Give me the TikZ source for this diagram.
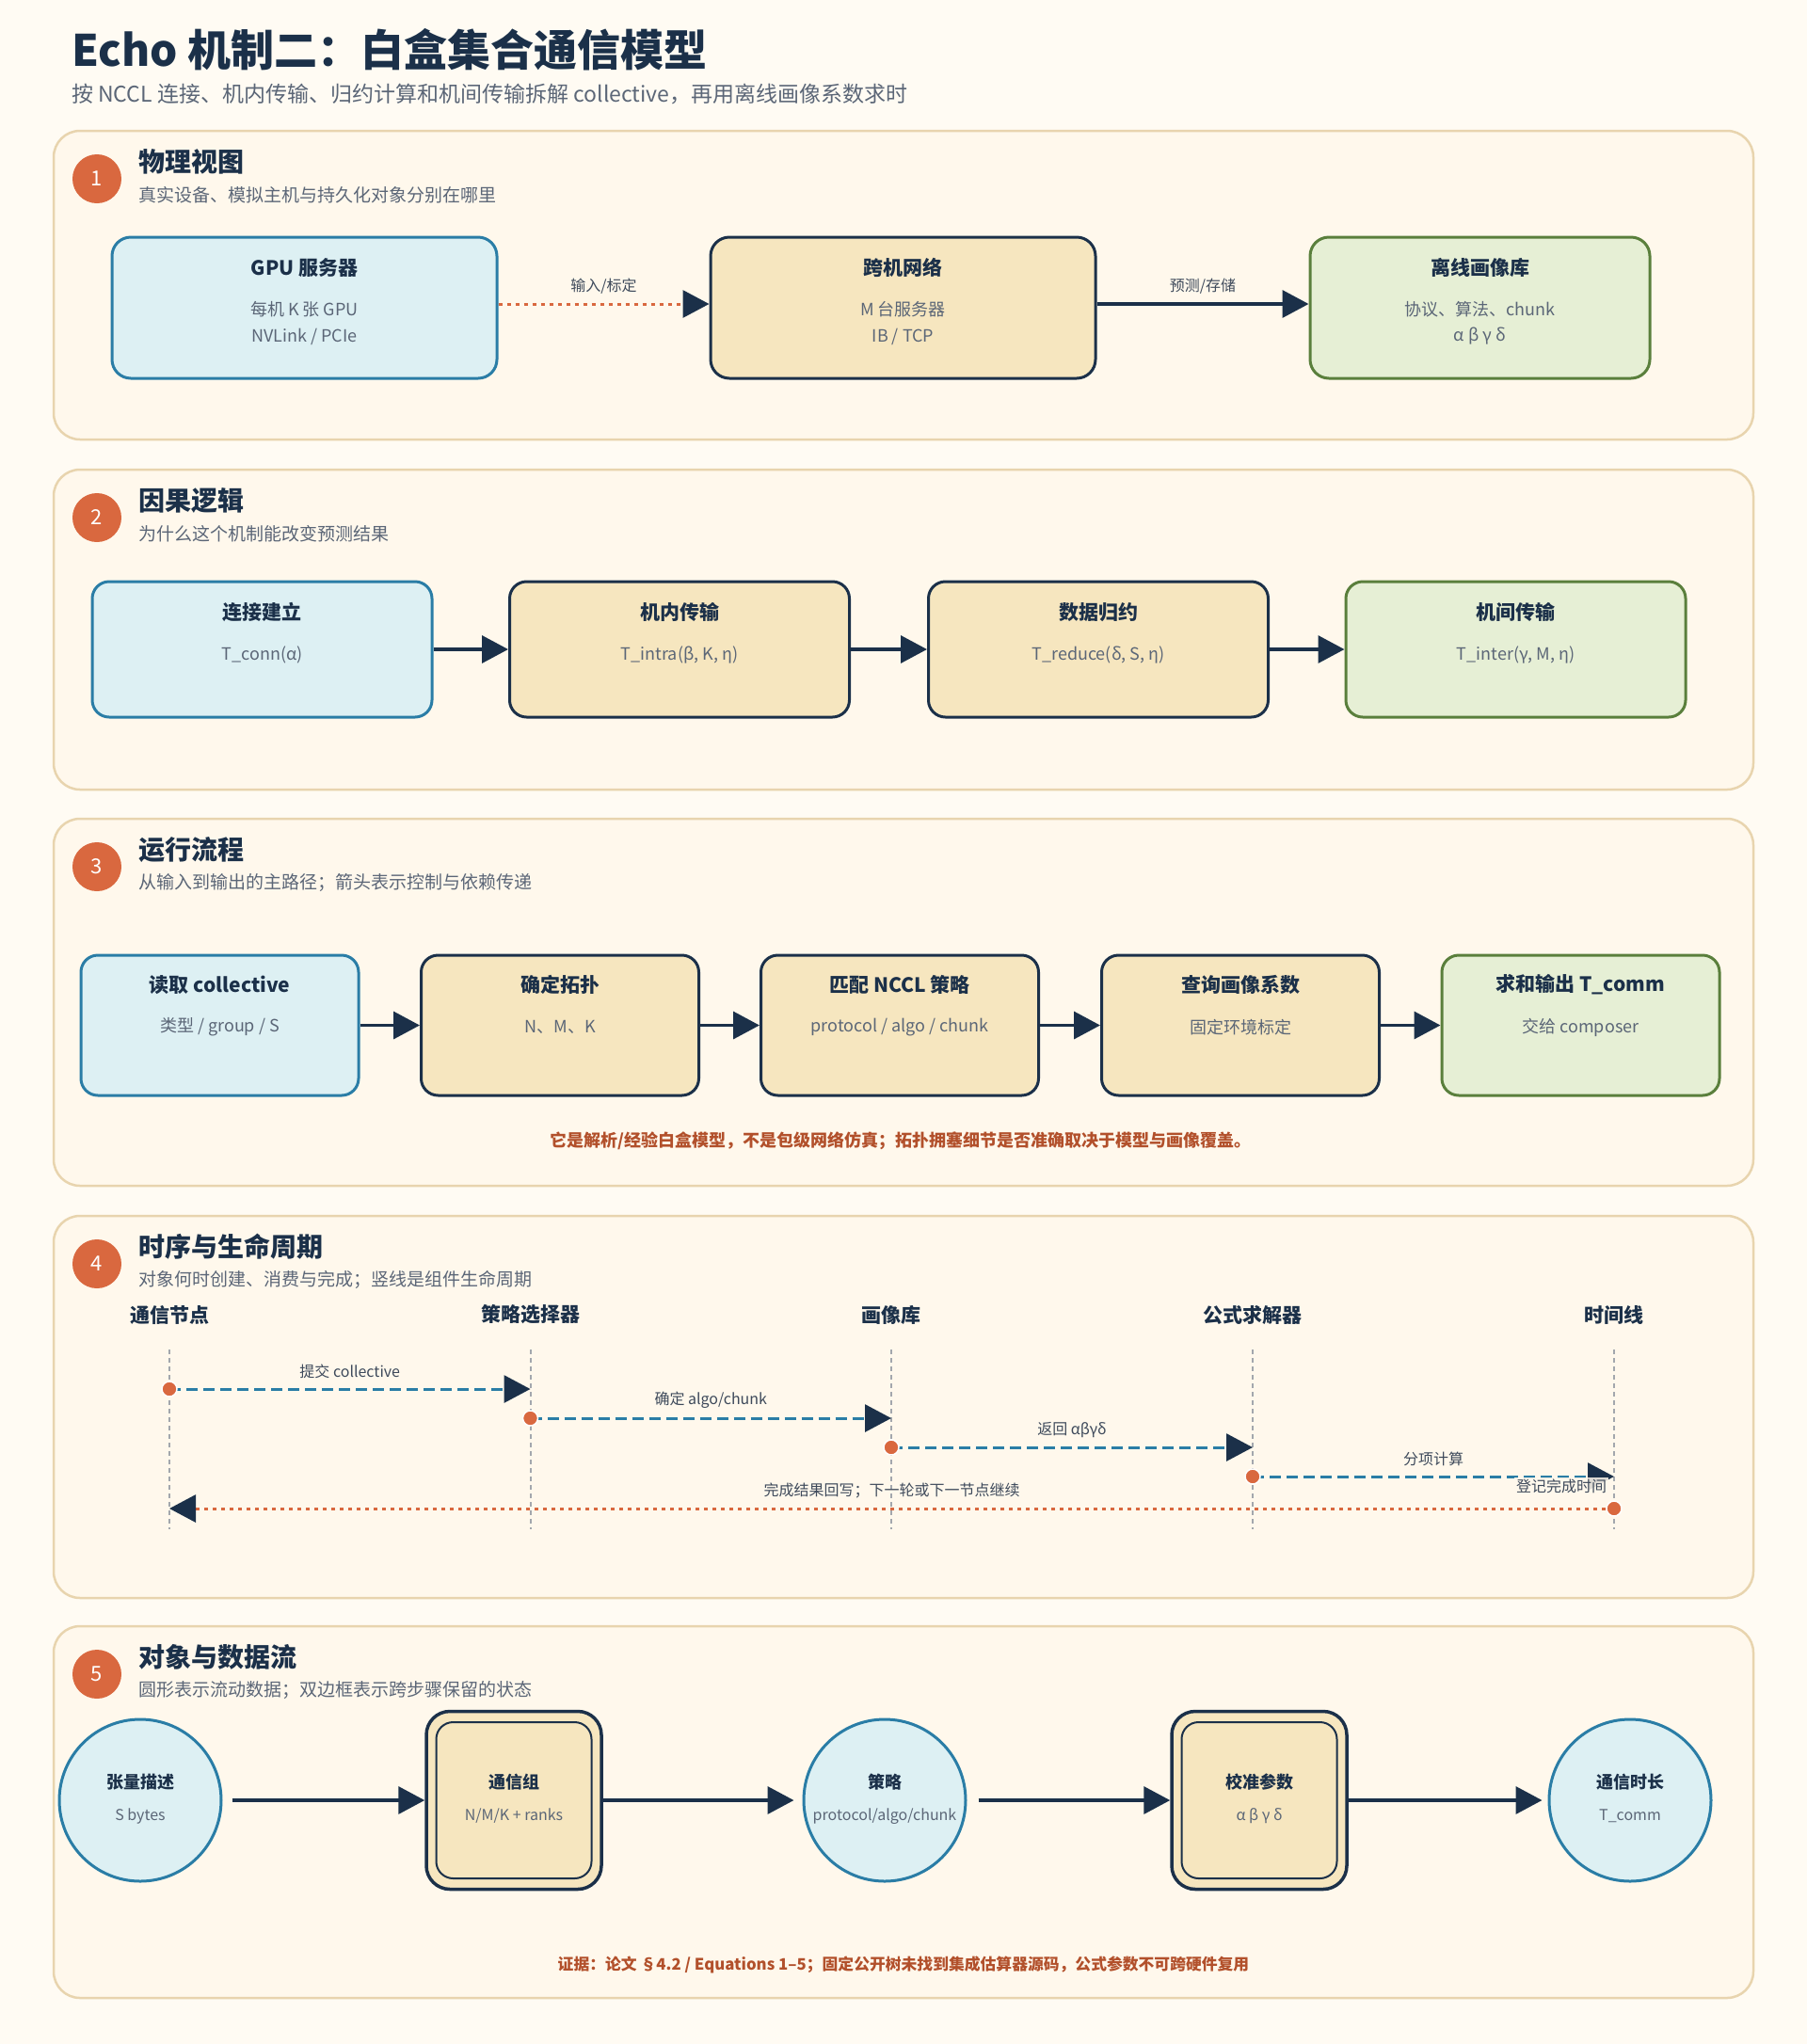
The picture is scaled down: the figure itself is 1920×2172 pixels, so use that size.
\documentclass[tikz,border=0pt]{standalone}
\usepackage{fontspec}
\setmainfont{Noto Sans CJK SC}
\usetikzlibrary{arrows.meta,calc}
\definecolor{bgc}{HTML}{FFFBF3}
\definecolor{panelfill}{HTML}{FFF8EC}
\definecolor{panelline}{HTML}{E8D4AE}
\definecolor{navy}{HTML}{1B3049}
\definecolor{subgray}{HTML}{5B6677}
\definecolor{labgray}{HTML}{3E4A5B}
\definecolor{badgec}{HTML}{D9683F}
\definecolor{bluel}{HTML}{2A7DA6}
\definecolor{bluef}{HTML}{DDF0F3}
\definecolor{beigef}{HTML}{F6E6BF}
\definecolor{greenl}{HTML}{5A7F3C}
\definecolor{greenf}{HTML}{E6EFD5}
\definecolor{rust}{HTML}{B2502B}
\definecolor{lifeg}{HTML}{A3A7AD}
\newcommand\sechead[4]{%
  \node[badge] (badge#2) at (103,#1+51) {#2};
  \node[sectitle] (st#2) at (147,#1+33) {#3};
  \node[secsub] (ss#2) at (147,#1+68) {#4};
}
\begin{document}
\begin{tikzpicture}[x=1pt,y=-1pt,
  panel/.style={draw=panelline, line width=2.5pt, fill=panelfill, rounded corners=28pt},
  badge/.style={circle, fill=badgec, minimum size=52pt, inner sep=0pt, text=white, font=\fontsize{22}{26}\selectfont},
  sectitle/.style={anchor=west, inner sep=0pt, text=navy, font=\fontsize{28}{32}\selectfont\bfseries},
  secsub/.style={anchor=west, inner sep=0pt, text=subgray, font=\fontsize{19}{22}\selectfont},
  box/.style={rectangle, rounded corners=20pt, line width=3pt, inner sep=0pt},
  bluebox/.style={box, draw=bluel, fill=bluef},
  beigebox/.style={box, draw=navy, fill=beigef},
  greenbox/.style={box, draw=greenl, fill=greenf},
  btitle/.style={inner sep=0pt, text=navy, font=\fontsize{21}{25}\selectfont\bfseries},
  bsub/.style={inner sep=0pt, text=subgray, font=\fontsize{18}{22}\selectfont},
  otitle/.style={inner sep=0pt, text=navy, font=\fontsize{18}{22}\selectfont\bfseries},
  osub/.style={inner sep=0pt, text=subgray, font=\fontsize{16}{20}\selectfont},
  alabel/.style={inner sep=0pt, text=labgray, font=\fontsize{16}{20}\selectfont},
  lhead/.style={inner sep=0pt, text=navy, font=\fontsize{21}{25}\selectfont\bfseries},
  note/.style={inner sep=0pt, text=rust, font=\fontsize{18}{21}\selectfont\bfseries},
  tip/.style={-{Triangle[length=28pt,width=29pt,color=navy]}},
  flow/.style={tip, draw=navy, line width=3.5pt},
  dotflow/.style={tip, draw=badgec, line width=3pt, dash pattern=on 4pt off 5pt},
  dashflow/.style={tip, draw=bluel, line width=3pt, dash pattern=on 12pt off 6pt},
  lifeline/.style={draw=lifeg, line width=2pt, dash pattern=on 5pt off 4pt},
  dot/.style={circle, fill=badgec, draw=white, line width=1.5pt, minimum size=16pt, inner sep=0pt},
  circobj/.style={circle, draw=bluel, fill=bluef, line width=3pt, minimum size=172pt, inner sep=0pt},
  dblobj/.style={rectangle, rounded corners=25pt, draw=navy, fill=beigef, line width=3.5pt, minimum width=186pt, minimum height=189pt, inner sep=0pt},
  dblin/.style={rectangle, rounded corners=18pt, draw=navy, line width=2pt, minimum width=165pt, minimum height=166pt, inner sep=0pt}
]
\useasboundingbox (0,0) rectangle (1920,2172);
\fill[bgc] (0,0) rectangle (1920,2172);

% ---- header
\node[anchor=west, inner sep=0pt, text=navy, font=\fontsize{46}{54}\selectfont\bfseries] (title) at (76,53) {Echo 机制二：白盒集合通信模型};
\node[anchor=west, inner sep=0pt, text=subgray, font=\fontsize{23}{27}\selectfont] (subtitle) at (76,100) {按 NCCL 连接、机内传输、归约计算和机间传输拆解 collective，再用离线画像系数求时};

% ---- panels
\draw[panel] (57,139) rectangle (1863,467);
\draw[panel] (57,499) rectangle (1863,839);
\draw[panel] (57,870) rectangle (1863,1260);
\draw[panel] (57,1292) rectangle (1863,1698);
\draw[panel] (57,1728) rectangle (1863,2123);

\sechead{139}{1}{物理视图}{真实设备、模拟主机与持久化对象分别在哪里}
\sechead{499}{2}{因果逻辑}{为什么这个机制能改变预测结果}
\sechead{870}{3}{运行流程}{从输入到输出的主路径；箭头表示控制与依赖传递}
\sechead{1292}{4}{时序与生命周期}{对象何时创建、消费与完成；竖线是组件生命周期}
\sechead{1728}{5}{对象与数据流}{圆形表示流动数据；双边框表示跨步骤保留的状态}

% ---- panel 1
\node[bluebox, minimum width=409pt, minimum height=150pt] (p1a) at (323.5,327) {};
\node[beigebox, minimum width=409pt, minimum height=150pt] (p1b) at (959.5,327) {};
\node[greenbox, minimum width=361pt, minimum height=150pt] (p1c) at (1572.5,327) {};
\node[btitle] (p1at) at ([yshift=-34pt]p1a.north) {GPU 服务器};
\node[bsub] (p1a1) at ([yshift=-78pt]p1a.north) {每机 K 张 GPU};
\node[bsub] (p1a2) at ([yshift=-107pt]p1a.north) {NVLink / PCIe};
\node[btitle] (p1bt) at ([yshift=-34pt]p1b.north) {跨机网络};
\node[bsub] (p1b1) at ([yshift=-78pt]p1b.north) {M 台服务器};
\node[bsub] (p1b2) at ([yshift=-107pt]p1b.north) {IB / TCP};
\node[btitle] (p1ct) at ([yshift=-34pt]p1c.north) {离线画像库};
\node[bsub] (p1c1) at ([yshift=-78pt]p1c.north) {协议、算法、chunk};
\node[bsub] (p1c2) at ([yshift=-107pt]p1c.north) {α β γ δ};
\draw[dotflow] ([yshift=4pt]p1a.east) -- ([yshift=4pt]p1b.west) node[midway, yshift=19pt, alabel] (l1) {输入/标定};
\draw[flow] ([yshift=4pt]p1b.east) -- ([yshift=4pt]p1c.west) node[midway, yshift=19pt, alabel] (l2) {预测/存储};

% ---- panel 2
\node[bluebox, rounded corners=18pt, minimum width=361pt, minimum height=144pt] (p2a) at (278.5,690) {};
\node[beigebox, rounded corners=18pt, minimum width=361pt, minimum height=144pt] (p2b) at (722,690) {};
\node[beigebox, rounded corners=18pt, minimum width=361pt, minimum height=144pt] (p2c) at (1167,690) {};
\node[greenbox, rounded corners=18pt, minimum width=361pt, minimum height=144pt] (p2d) at (1610.5,690) {};
\node[btitle] (p2at) at ([yshift=-34pt]p2a.north) {连接建立};
\node[bsub] (p2as) at ([yshift=-79pt]p2a.north) {T\_conn(α)};
\node[btitle] (p2bt) at ([yshift=-34pt]p2b.north) {机内传输};
\node[bsub] (p2bs) at ([yshift=-79pt]p2b.north) {T\_intra(β, K, η)};
\node[btitle] (p2ct) at ([yshift=-34pt]p2c.north) {数据归约};
\node[bsub] (p2cs) at ([yshift=-79pt]p2c.north) {T\_reduce(δ, S, η)};
\node[btitle] (p2dt) at ([yshift=-34pt]p2d.north) {机间传输};
\node[bsub] (p2ds) at ([yshift=-79pt]p2d.north) {T\_inter(γ, M, η)};
\draw[flow] (p2a) -- (p2b);
\draw[flow] (p2b) -- (p2c);
\draw[flow] (p2c) -- (p2d);

% ---- panel 3
\node[bluebox, rounded corners=18pt, minimum width=295pt, minimum height=149pt] (p3a) at (233.5,1089.5) {};
\node[beigebox, rounded corners=18pt, minimum width=295pt, minimum height=149pt] (p3b) at (595,1089.5) {};
\node[beigebox, rounded corners=18pt, minimum width=295pt, minimum height=149pt] (p3c) at (956,1089.5) {};
\node[beigebox, rounded corners=18pt, minimum width=295pt, minimum height=149pt] (p3d) at (1318,1089.5) {};
\node[greenbox, rounded corners=18pt, minimum width=295pt, minimum height=149pt] (p3e) at (1679.5,1089.5) {};
\node[btitle] (p3at) at ([yshift=-33pt]p3a.north) {读取 collective};
\node[bsub] (p3as) at ([yshift=-78pt]p3a.north) {类型 / group / S};
\node[btitle] (p3bt) at ([yshift=-33pt]p3b.north) {确定拓扑};
\node[bsub] (p3bs) at ([yshift=-78pt]p3b.north) {N、M、K};
\node[btitle] (p3ct) at ([yshift=-33pt]p3c.north) {匹配 NCCL 策略};
\node[bsub] (p3cs) at ([yshift=-78pt]p3c.north) {protocol / algo / chunk};
\node[btitle] (p3dt) at ([yshift=-33pt]p3d.north) {查询画像系数};
\node[bsub] (p3ds) at ([yshift=-78pt]p3d.north) {固定环境标定};
\node[btitle] (p3et) at ([yshift=-33pt]p3e.north) {求和输出 T\_comm};
\node[bsub] (p3es) at ([yshift=-78pt]p3e.north) {交给 composer};
\draw[flow] (p3a) -- (p3b);
\draw[flow] (p3b) -- (p3c);
\draw[flow] (p3c) -- (p3d);
\draw[flow] (p3d) -- (p3e);
\node[note] (n3) at (957,1212) {它是解析/经验白盒模型，不是包级网络仿真；拓扑拥塞细节是否准确取决于模型与画像覆盖。};

% ---- panel 4
\node[lhead] (h1) at (180,1397) {通信节点};
\node[lhead] (h2) at (563.5,1397) {策略选择器};
\node[lhead] (h3) at (947,1397) {画像库};
\node[lhead] (h4) at (1331,1397) {公式求解器};
\node[lhead] (h5) at (1715,1397) {时间线};
\foreach \i/\x in {1/180,2/563.5,3/947,4/1331,5/1715}{
  \coordinate (t\i) at (\x,1434);
  \coordinate (b\i) at (\x,1625);
  \draw[lifeline] (t\i) -- (b\i);
}
\coordinate (m1s) at (180,1476);   \coordinate (m1e) at (563.5,1476);
\coordinate (m2s) at (563.5,1507); \coordinate (m2e) at (947,1507);
\coordinate (m3s) at (947,1538);   \coordinate (m3e) at (1331,1538);
\coordinate (m4s) at (1331,1569);  \coordinate (m4e) at (1715,1569);
\coordinate (m5s) at (1715,1603);  \coordinate (m5e) at (180,1603);
\draw[dashflow] (m1s) -- (m1e) node[midway, yshift=19pt, alabel] (ml1) {提交 collective};
\draw[dashflow] (m2s) -- (m2e) node[midway, yshift=19pt, alabel] (ml2) {确定 algo/chunk};
\draw[dashflow] (m3s) -- (m3e) node[midway, yshift=19pt, alabel] (ml3) {返回 αβγδ};
\draw[dashflow] (m4s) -- (m4e) node[midway, yshift=19pt, alabel] (ml4) {分项计算};
\draw[dotflow] (m5s) -- (m5e) node[midway, yshift=19pt, alabel] (ml5) {完成结果回写；下一轮或下一节点继续};
\node[dot] (d1) at (m1s) {};
\node[dot] (d2) at (m2s) {};
\node[dot] (d3) at (m3s) {};
\node[dot] (d4) at (m4s) {};
\node[dot] (d5) at (m5s) {};
\node[alabel, fill=panelfill, fill opacity=0.85, text opacity=1, inner sep=2pt] (reg) at (1659,1579) {登记完成时间};

% ---- panel 5
\node[circobj] (o1) at (149,1913) {};
\node[dblobj] (o2) at (546,1913) {};
\node[dblin] (o2i) at (546,1913) {};
\node[circobj] (o3) at (940,1913) {};
\node[dblobj] (o4) at (1338,1913) {};
\node[dblin] (o4i) at (1338,1913) {};
\node[circobj] (o5) at (1732,1913) {};
\node[otitle] (o1t) at (149,1894) {张量描述};
\node[osub] (o1s) at (149,1930) {S bytes};
\node[otitle] (o2t) at (546,1894) {通信组};
\node[osub] (o2s) at (546,1930) {N/M/K + ranks};
\node[otitle] (o3t) at (940,1894) {策略};
\node[osub] (o3s) at (940,1930) {protocol/algo/chunk};
\node[otitle] (o4t) at (1338,1894) {校准参数};
\node[osub] (o4s) at (1338,1930) {α β γ δ};
\node[otitle] (o5t) at (1732,1894) {通信时长};
\node[osub] (o5s) at (1732,1930) {T\_comm};
\draw[flow, shorten <=10pt] (o1) -- (o2);
\draw[flow, shorten >=9pt] (o2) -- (o3);
\draw[flow, shorten <=12pt] (o3) -- (o4);
\draw[flow, shorten >=6pt] (o4) -- (o5);
\node[note, font=\fontsize{16.8}{21}\selectfont\bfseries] (n5) at (960,2088) {证据：论文 §4.2 / Equations 1–5；固定公开树未找到集成估算器源码，公式参数不可跨硬件复用};
\end{tikzpicture}
\end{document}
